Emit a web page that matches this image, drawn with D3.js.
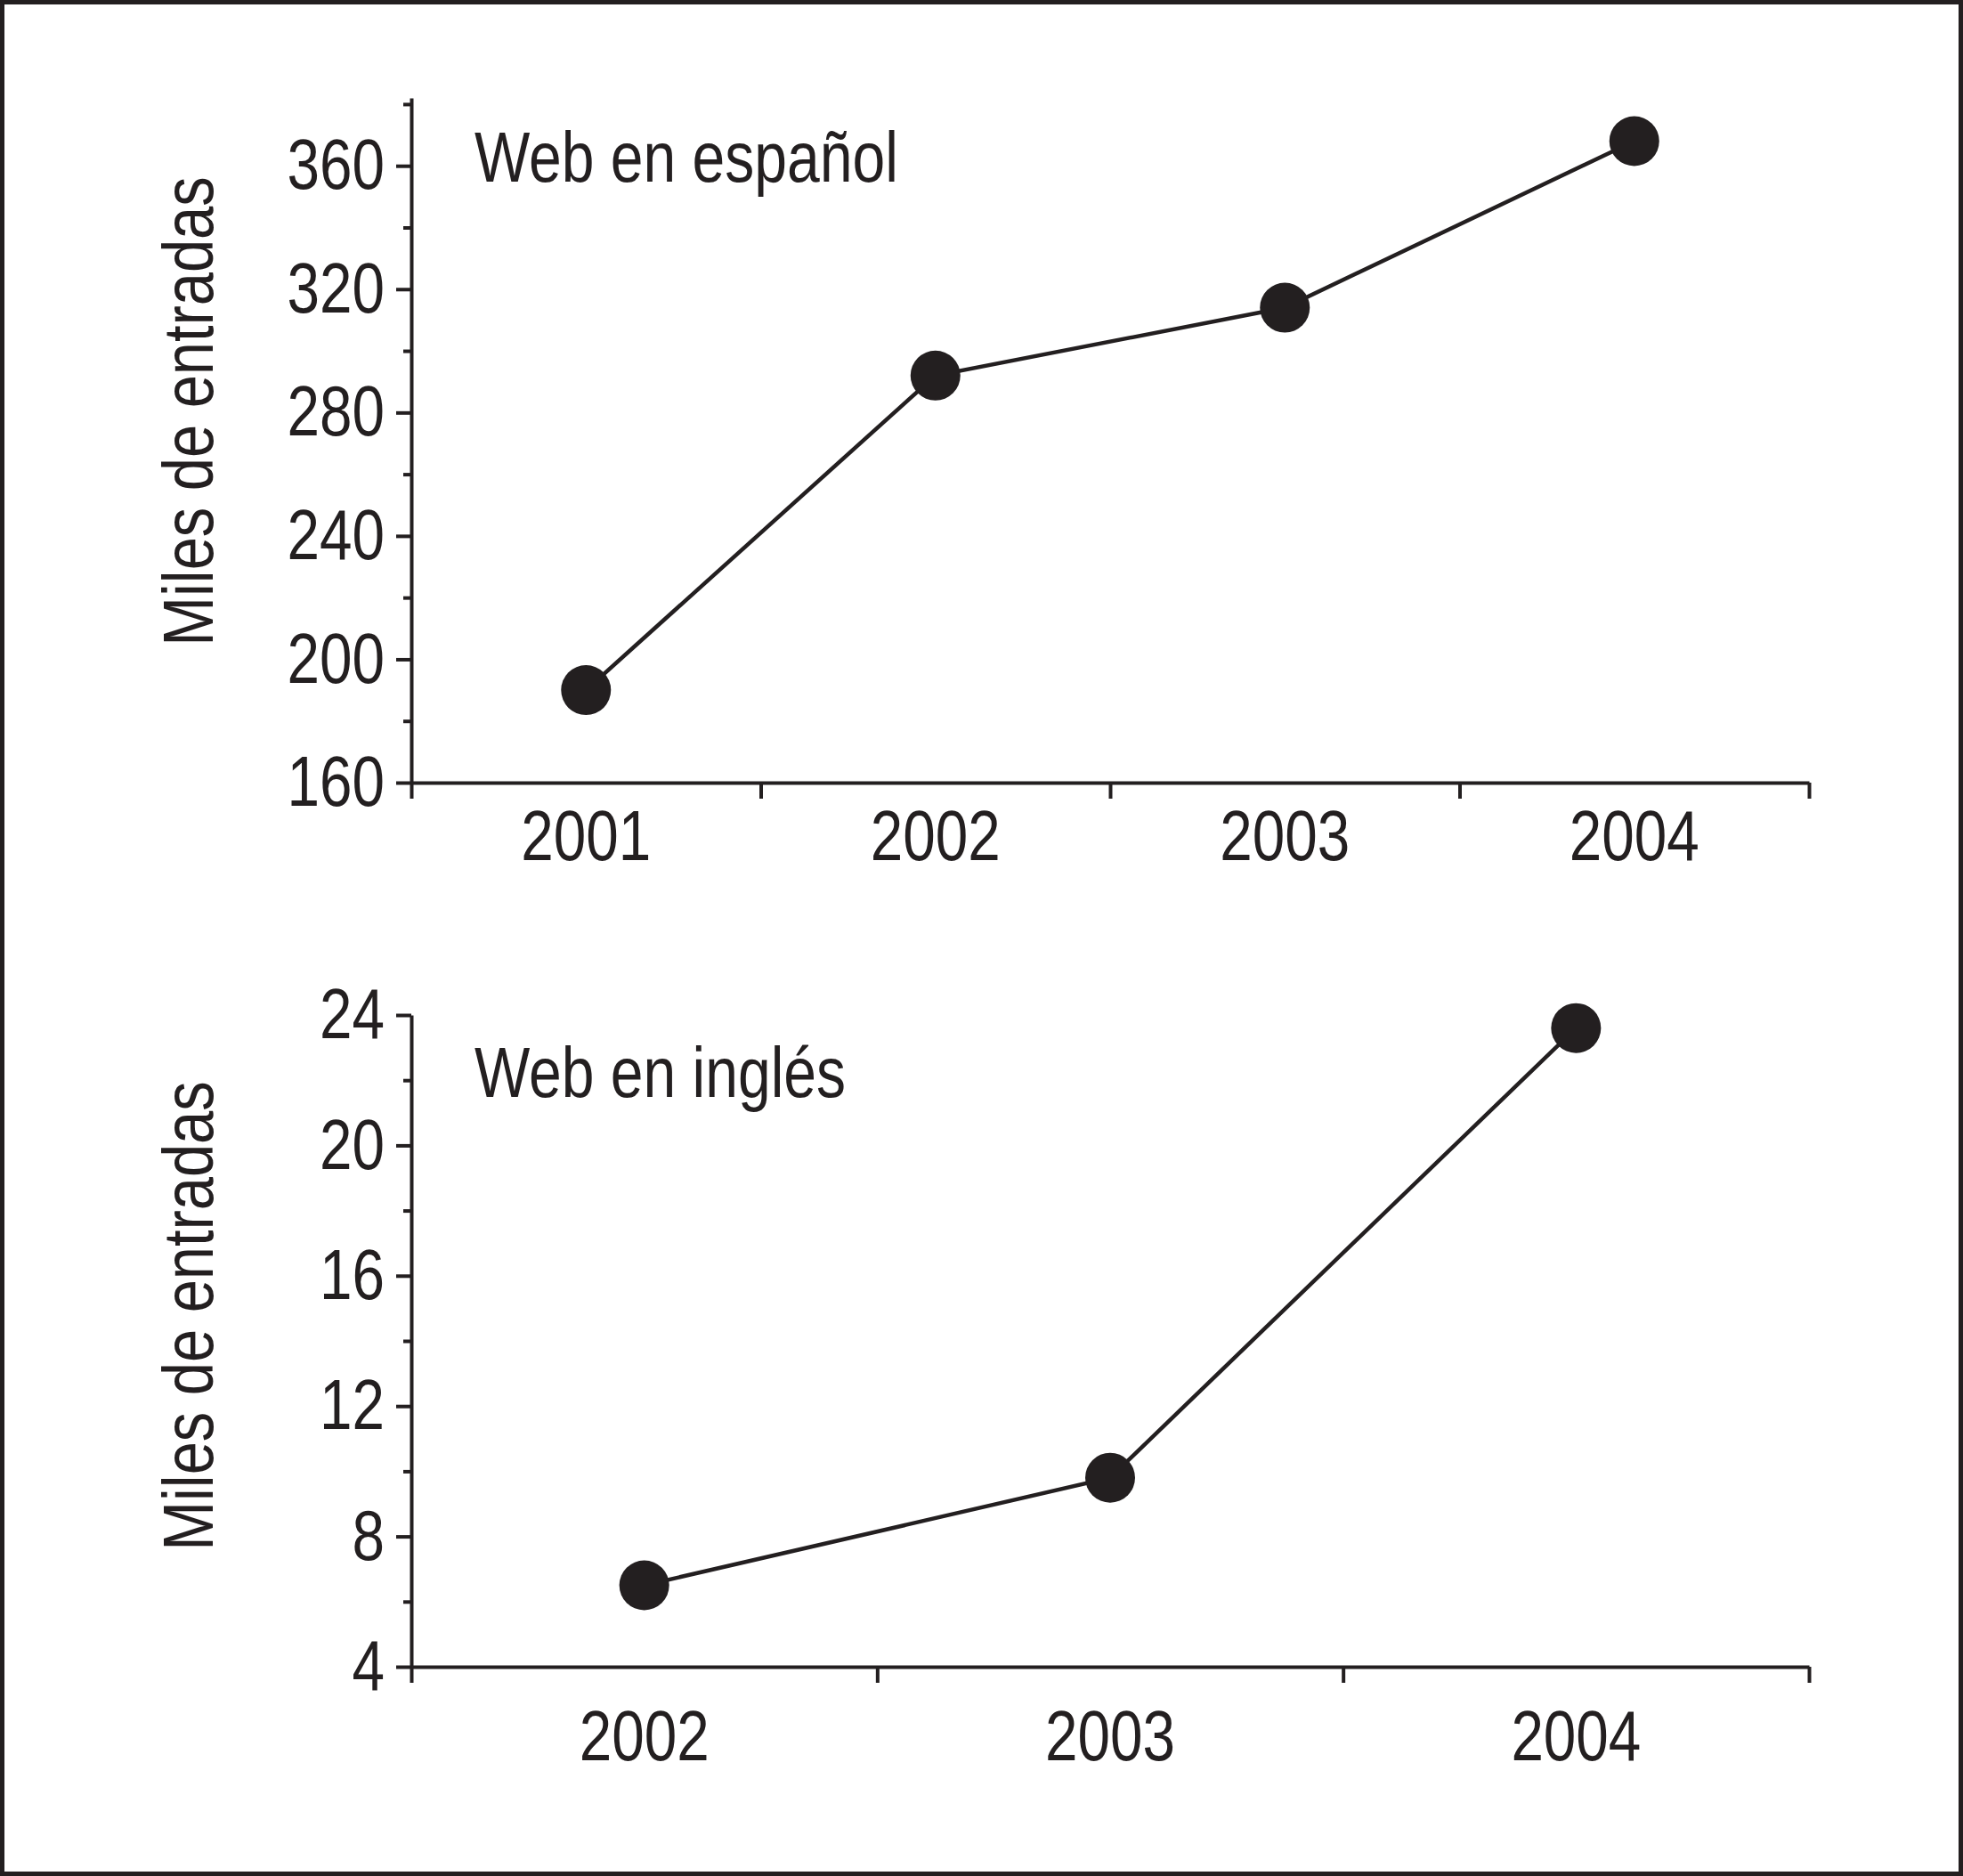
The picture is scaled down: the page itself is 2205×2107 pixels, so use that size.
<!DOCTYPE html>
<html>
<head>
<meta charset="utf-8">
<script src="https://cdn.jsdelivr.net/npm/d3@7"></script>
<style>
  body { margin: 0; background: #fff; }
  text { font-family: "Liberation Sans", Arial, sans-serif; fill: #231f20; }
</style>
</head>
<body>
<div id="chart"></div>
<script>
// Data
const yearsEs = ["2001", "2002", "2003", "2004"];
const valuesEs = [190, 292, 314, 368];
const yearsEn = ["2002", "2003", "2004"];
const valuesEn = [6.5, 9.8, 23.6];

const majorTicksEs = [160, 200, 240, 280, 320, 360];
const minorTicksEs = [180, 220, 260, 300, 340, 380];
const majorTicksEn = [4, 8, 12, 16, 20, 24];
const minorTicksEn = [6, 10, 14, 18, 22];

const width = 2205;
const height = 2107;
const ink = "#231f20";

const svg = d3.select("#chart")
  .append("svg")
  .attr("width", width)
  .attr("height", height);

svg.append("rect")
  .attr("x", 2.5).attr("y", 2.5)
  .attr("width", width - 5).attr("height", height - 5)
  .attr("fill", "#fff")
  .attr("stroke", ink)
  .attr("stroke-width", 5);

function drawPanel(opts) {
  const { years, values, yDomain, yRange, majors, minors, label, labelY, titleY, xPad } = opts;
  const left = 462, right = 2032;

  const x = d3.scaleBand().domain(years).range([left, right]);
  const xEdges = d3.scaleLinear().domain([0, years.length]).range([left, right]);
  const y = d3.scaleLinear().domain(yDomain).range(yRange);
  const base = yRange[0];

  const g = svg.append("g");

  // minor y ticks
  g.append("g")
    .attr("transform", `translate(${left},0)`)
    .call(d3.axisLeft(y).tickValues(minors).tickSize(9).tickSizeOuter(0).tickFormat(""))
    .call(s => s.select(".domain").remove());

  // major y ticks + labels
  g.append("g")
    .attr("transform", `translate(${left},0)`)
    .call(d3.axisLeft(y).tickValues(majors).tickSize(17).tickPadding(13).tickSizeOuter(0))
    .call(s => s.selectAll("text").attr("font-size", 80).style("font-family", null));

  // x ticks at band edges
  g.append("g")
    .attr("transform", `translate(0,${base})`)
    .call(d3.axisBottom(xEdges).tickValues(d3.range(years.length + 1)).tickSize(18).tickSizeOuter(0).tickFormat(""));

  // year labels at band centres
  g.append("g")
    .attr("transform", `translate(0,${base})`)
    .call(d3.axisBottom(x).tickSize(0).tickPadding(xPad))
    .call(s => s.select(".domain").remove())
    .call(s => s.selectAll("text").attr("font-size", 80).style("font-family", null));

  g.selectAll(".domain, .tick line")
    .attr("stroke", ink)
    .attr("stroke-width", 4);

  const pts = years.map((yr, i) => [x(yr) + x.bandwidth() / 2, y(values[i])]);

  g.append("path")
    .datum(pts)
    .attr("d", d3.line())
    .attr("fill", "none")
    .attr("stroke", ink)
    .attr("stroke-width", 4.5);

  g.selectAll("circle")
    .data(pts)
    .enter()
    .append("circle")
    .attr("cx", d => d[0])
    .attr("cy", d => d[1])
    .attr("r", 28)
    .attr("fill", ink);

  g.append("text")
    .attr("x", 533)
    .attr("y", labelY)
    .attr("font-size", 80)
    .text(label);

  g.append("text")
    .attr("transform", `translate(239,${titleY}) rotate(-90)`)
    .attr("text-anchor", "middle")
    .attr("font-size", 80)
    .text("Miles de entradas");
}

drawPanel({
  years: yearsEs, values: valuesEs,
  yDomain: [160, 382], yRange: [879, 110],
  majors: majorTicksEs, minors: minorTicksEs,
  label: "Web en español", labelY: 204, titleY: 462, xPad: 30
});

drawPanel({
  years: yearsEn, values: valuesEn,
  yDomain: [4, 24], yRange: [1872, 1140],
  majors: majorTicksEn, minors: minorTicksEn,
  label: "Web en inglés", labelY: 1232, titleY: 1478, xPad: 48
});

// squeeze the glyphs to look like a condensed face
svg.selectAll("text").each(function () {
  const t = d3.select(this);
  const w = this.getComputedTextLength();
  const s = t.text();
  const k = /^\d+$/.test(s) ? 0.82 : (s.startsWith("Miles") ? 0.835 : 0.825);
  t.attr("textLength", w * k).attr("lengthAdjust", "spacingAndGlyphs");
});
</script>
</body>
</html>
